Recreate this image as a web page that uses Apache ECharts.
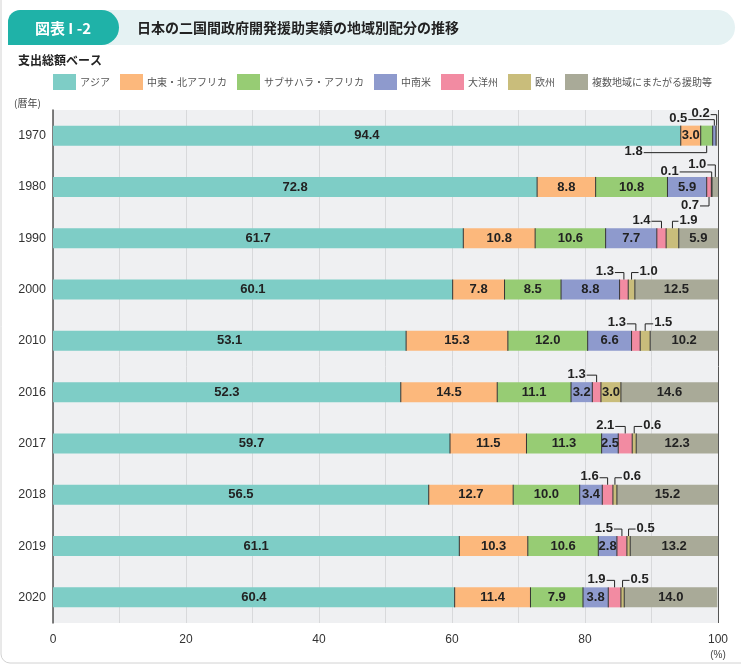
<!DOCTYPE html>
<html>
<head>
<meta charset="utf-8">
<script src="https://cdn.jsdelivr.net/npm/echarts@6/dist/echarts.min.js"></script>
<style>
  html, body { margin: 0; padding: 0; background: #fff; }
  #chart { width: 741px; height: 669px; }
</style>
</head>
<body>
<div id="chart"></div>
<script>
(function() {
    // 暦年
    const years = ['1970', '1980', '1990', '2000', '2010', '2016', '2017', '2018', '2019', '2020'];
    const regionNames = ['アジア', '中東・北アフリカ', 'サブサハラ・アフリカ', '中南米', '大洋州', '欧州', '複数地域にまたがる援助等'];

    // 地域別配分 (%)
    const asia    = [94.4, 72.8, 61.7, 60.1, 53.1, 52.3, 59.7, 56.5, 61.1, 60.4];
    const mena    = [3.0, 8.8, 10.8, 7.8, 15.3, 14.5, 11.5, 12.7, 10.3, 11.4];
    const ssa     = [1.8, 10.8, 10.6, 8.5, 12.0, 11.1, 11.3, 10.0, 10.6, 7.9];
    const latam   = [0.5, 5.9, 7.7, 8.8, 6.6, 3.2, 2.5, 3.4, 2.8, 3.8];
    const oceania = [0, 0.7, 1.4, 1.3, 1.3, 1.3, 2.1, 1.6, 1.5, 1.9];
    const europe  = [0, 0.1, 1.9, 1.0, 1.5, 3.0, 0.6, 0.6, 0.5, 0.5];
    const multi   = [0.2, 1.0, 5.9, 12.5, 10.2, 14.6, 12.3, 15.2, 13.2, 14.0];

    const xTicks = [0, 20, 40, 60, 80, 100];

    const seriesValues = [asia, mena, ssa, latam, oceania, europe, multi];
    const colors = ['#7ecdc6', '#fcb87c', '#97cc74', '#8e9acd', '#f28ba2', '#c9bd7b', '#a9aa98'];

    // 引き出し線ラベル: y=年の番号, s=地域の番号, 位置と線の長さ
    const callouts = [
        { y: 0, s: 2, pos: 'bottom', dir: 'left', gap: 63, dy: 7 },
        { y: 0, s: 3, pos: 'top', dir: 'left', gap: 26, dy: 6 },
        { y: 0, s: 6, pos: 'top', dir: 'left', gap: 6, dy: 11 },
        { y: 1, s: 4, pos: 'bottom', dir: 'left', gap: 9, dy: 9 },
        { y: 1, s: 5, pos: 'top', dir: 'left', gap: 32, dy: 5 },
        { y: 1, s: 6, pos: 'top', dir: 'left', gap: 8, dy: 12 },
        { y: 2, s: 4, pos: 'top', dir: 'left', gap: 10, dy: 7 },
        { y: 2, s: 5, pos: 'top', dir: 'right', gap: 6, dy: 7 },
        { y: 3, s: 4, pos: 'top', dir: 'left', gap: 9, dy: 7 },
        { y: 3, s: 5, pos: 'top', dir: 'right', gap: 7, dy: 7 },
        { y: 4, s: 4, pos: 'top', dir: 'left', gap: 9, dy: 7 },
        { y: 4, s: 5, pos: 'top', dir: 'right', gap: 8, dy: 7 },
        { y: 5, s: 4, pos: 'top', dir: 'left', gap: 10, dy: 7 },
        { y: 6, s: 4, pos: 'top', dir: 'left', gap: 10, dy: 7 },
        { y: 6, s: 5, pos: 'top', dir: 'right', gap: 8, dy: 7 },
        { y: 7, s: 4, pos: 'top', dir: 'left', gap: 8, dy: 7 },
        { y: 7, s: 5, pos: 'top', dir: 'right', gap: 7, dy: 7 },
        { y: 8, s: 4, pos: 'top', dir: 'left', gap: 8, dy: 7 },
        { y: 8, s: 5, pos: 'top', dir: 'right', gap: 7, dy: 7 },
        { y: 9, s: 4, pos: 'top', dir: 'left', gap: 8, dy: 7 },
        { y: 9, s: 5, pos: 'top', dir: 'right', gap: 7, dy: 7 }
    ];

    const FONT = '"Liberation Sans", "Noto Sans CJK JP", sans-serif';
    const JFONT = '"Noto Sans CJK JP", "Liberation Sans", sans-serif';
    const BAR_W = 20;

    const hidden = {};
    callouts.forEach(c => { hidden[c.y + '_' + c.s] = true; });

    function startOf(s, y) {
        let sum = 0;
        for (let k = 0; k < s; k++) sum += seriesValues[k][y];
        return sum;
    }

    const barSeries = seriesValues.map((vals, s) => ({
        name: regionNames[s],
        type: 'bar',
        stack: 'total',
        barWidth: BAR_W,
        data: vals,
        itemStyle: { color: colors[s] },
        label: {
            show: true,
            position: 'inside',
            color: '#222',
            fontFamily: FONT,
            fontWeight: 'bold',
            fontSize: 13,
            formatter: p => (p.value === 0 || hidden[p.dataIndex + '_' + s]) ? '' : p.value.toFixed(1)
        }
    }));

    // 区切り線
    const separatorSeries = {
        type: 'custom',
        silent: true,
        z: 5,
        encode: { x: 0, y: 1 },
        data: years.map((_, i) => [0, i]),
        renderItem: function(params, api) {
            const y = api.value(1);
            const children = [];
            let cum = 0;
            for (let s = 0; s < seriesValues.length - 1; s++) {
                const v = seriesValues[s][y];
                cum += v;
                if (v === 0) continue;
                const p = api.coord([cum, y]);
                children.push({
                    type: 'line',
                    shape: { x1: p[0], y1: p[1] - BAR_W / 2, x2: p[0], y2: p[1] + BAR_W / 2 },
                    style: { stroke: '#333', lineWidth: 1 }
                });
            }
            return { type: 'group', children: children };
        }
    };

    const calloutSeries = {
        type: 'custom',
        silent: true,
        z: 6,
        clip: false,
        encode: { x: 0, y: 1 },
        data: callouts.map(c => [startOf(c.s, c.y) + seriesValues[c.s][c.y] / 2, c.y]),
        renderItem: function(params, api) {
            const c = callouts[params.dataIndex];
            const v = seriesValues[c.s][c.y];
            const p = api.coord([api.value(0), api.value(1)]);
            const sign = c.pos === 'top' ? -1 : 1;
            const yEdge = p[1] + sign * BAR_W / 2;
            const yLine = yEdge + sign * c.dy;
            const left = c.dir === 'left';
            const xEnd = left ? p[0] - c.gap : p[0] + c.gap;
            return {
                type: 'group',
                children: [
                    {
                        type: 'polyline',
                        shape: { points: [[p[0], yEdge], [p[0], yLine], [xEnd, yLine]] },
                        style: { stroke: '#222', fill: null, lineWidth: 1 }
                    },
                    {
                        type: 'text',
                        style: {
                            x: xEnd + (left ? -1 : 1),
                            y: yLine - 1,
                            text: v.toFixed(1),
                            align: left ? 'right' : 'left',
                            verticalAlign: 'middle',
                            font: 'bold 13px ' + FONT,
                            fill: '#222'
                        }
                    }
                ]
            };
        }
    };

    const splitColors = [];
    for (let i = 0; i <= 10; i++) splitColors.push(i === 10 ? '#555' : '#d8d9db');

    const myChart = echarts.init(document.getElementById('chart'));

    const option = {
        backgroundColor: '#fff',
        animation: false,
        graphic: [
            {
                type: 'rect', z: -10, silent: true,
                shape: { x: 1, y: -20, width: 800, height: 683, r: 9 },
                style: { fill: 'none', stroke: '#d2d2d2', lineWidth: 1 }
            },
            {
                type: 'rect', silent: true,
                shape: { x: 90, y: 10, width: 645, height: 35, r: [0, 18, 18, 0] },
                style: { fill: '#e5f2f3' }
            },
            {
                type: 'rect', silent: true,
                shape: { x: 8, y: 10, width: 111, height: 35, r: [12, 18, 18, 0] },
                style: { fill: '#1fb2a8' }
            },
            {
                type: 'text', silent: true,
                style: { x: 63, y: 28, text: '図表 I -2', align: 'center', verticalAlign: 'middle',
                         font: 'bold 15px ' + JFONT, fill: '#fff' }
            },
            {
                type: 'text', silent: true,
                style: { x: 137, y: 28, text: '日本の二国間政府開発援助実績の地域別配分の推移', verticalAlign: 'middle',
                         font: 'bold 14px ' + JFONT, fill: '#222' }
            },
            {
                type: 'text', silent: true,
                style: { x: 18, y: 60, text: '支出総額ベース', verticalAlign: 'middle',
                         font: 'bold 12px ' + JFONT, fill: '#222' }
            },
            {
                type: 'text', silent: true,
                style: { x: 14, y: 103, text: '(暦年)', verticalAlign: 'middle',
                         font: '10px ' + JFONT, fill: '#444' }
            },
            {
                type: 'text', silent: true,
                style: { x: 718, y: 655, text: '(%)', align: 'center', verticalAlign: 'middle',
                         font: '10px ' + FONT, fill: '#444' }
            }
        ],
        legend: {
            left: 53,
            right: 2,
            top: 74,
            padding: 0,
            icon: 'rect',
            itemWidth: 23,
            itemHeight: 16,
            itemGap: 10,
            selectedMode: false,
            data: regionNames,
            textStyle: { fontSize: 10, color: '#555', fontFamily: JFONT, padding: [0, 0, 0, -1] }
        },
        grid: {
            left: 53,
            right: 23,
            top: 110,
            bottom: 46,
            show: true,
            backgroundColor: '#eff0f2',
            borderWidth: 0
        },
        xAxis: {
            type: 'value',
            min: 0,
            max: 100,
            interval: 10,
            axisLine: { show: false },
            axisTick: { show: false },
            axisLabel: {
                color: '#333',
                fontSize: 12,
                fontFamily: FONT,
                margin: 11,
                formatter: v => (xTicks.indexOf(v) >= 0 ? String(v) : '')
            },
            splitLine: { show: true, lineStyle: { color: splitColors, width: 1 } }
        },
        yAxis: {
            type: 'category',
            inverse: true,
            data: years,
            axisLine: { show: true, lineStyle: { color: '#555', width: 1.5 } },
            axisTick: { show: false },
            axisLabel: { color: '#333', fontSize: 12.5, fontFamily: FONT, margin: 7 }
        },
        series: barSeries.concat([separatorSeries, calloutSeries])
    };

    myChart.setOption(option);
})();
</script>
</body>
</html>
